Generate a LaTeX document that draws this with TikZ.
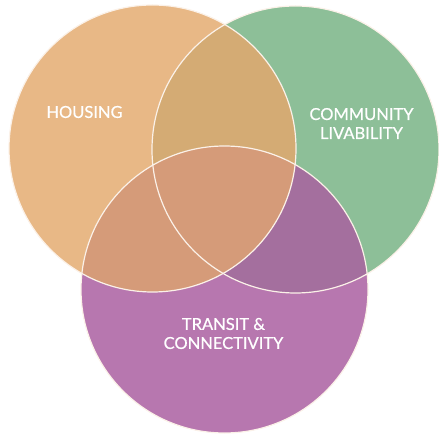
\documentclass[tikz,border=0pt]{standalone}
\usepackage{fontspec}
\setmainfont{Lato}
\newfontfamily\labelfont[FakeBold=0.6]{Lato}
\definecolor{housing}{HTML}{E8B886}
\definecolor{livab}{HTML}{8DBF98}
\definecolor{transit}{HTML}{B777AF}
\definecolor{hl}{HTML}{D4AB74}
\definecolor{ht}{HTML}{D59B79}
\definecolor{lt}{HTML}{A46F9E}
\definecolor{rim}{HTML}{FBF1E8}
\tikzset{
  rimline/.style={draw=rim, line width=1.2pt},
  label/.style={text=white, font=\labelfont\fontsize{16.5}{19}\selectfont, align=center, inner sep=0pt}
}
\begin{document}
\begin{tikzpicture}[x=1pt, y=-1pt]
\useasboundingbox (0,0) rectangle (439,435);
\def\rr{143.5}
\coordinate (ch) at (152.5,148.5);
\coordinate (cl) at (295.5,149.5);
\coordinate (ct) at (224.5,289.5);
% base discs
\fill[housing] (ch) circle (\rr);
\fill[livab] (cl) circle (\rr);
\fill[transit] (ct) circle (\rr);
% pairwise overlaps
\begin{scope}
  \clip (ch) circle (\rr);
  \fill[hl] (cl) circle (\rr);
  \fill[ht] (ct) circle (\rr);
\end{scope}
\begin{scope}
  \clip (cl) circle (\rr);
  \clip (ct) circle (\rr);
  \fill[lt] (ct) circle (\rr);
  \clip (ch) circle (\rr);
  \fill[ht] (ct) circle (\rr);
\end{scope}
% outlines
\draw[rimline] (ch) circle (\rr);
\draw[rimline] (cl) circle (\rr);
\draw[rimline] (ct) circle (\rr);
% labels
\node[label] (th) at (84.5,112) {HOUSING};
\node[label] (tl) at (361.5,123.5) {COMMUNITY\\LIVABILITY};
\node[label] (tt) at (223.5,333.5) {TRANSIT \&\\CONNECTIVITY};
\end{tikzpicture}
\end{document}
